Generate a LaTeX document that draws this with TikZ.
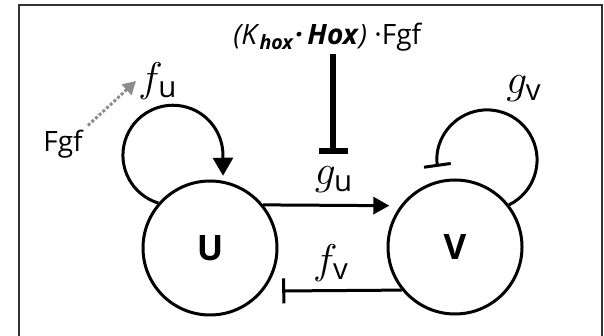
\documentclass[tikz,border=0pt]{standalone}
\usepackage{amsmath}
\usepackage{fontspec}
\setsansfont{Open Sans}
\usetikzlibrary{arrows.meta, positioning}
\definecolor{framegray}{HTML}{333333}
\definecolor{signalgray}{HTML}{8c8c8c}

\begin{document}
\begin{tikzpicture}[x=0.5pt, y=0.5pt,
    cell/.style={draw, circle, line width=1.5pt, minimum size=67pt, inner sep=0pt,
      font=\sffamily\bfseries\fontsize{17.5}{20}\selectfont},
    rate/.style={inner sep=1pt, font=\fontsize{21}{24}\selectfont},
    lbl/.style={inner sep=1pt, font=\sffamily\fontsize{14}{16}\selectfont},
    link/.style={line width=1.5pt}]
  \useasboundingbox (0,0) rectangle (604,336);
  \draw[framegray, line width=1pt] (19,0) -- (19,331) -- (602,331) -- (602,0);

  % the two cells
  \node[cell] (U) at (210,88) {U};
  \node[cell] (V) at (455,89) {V};

  % rates
  \node[rate] (gu) at (334,156) {$g_{\textsf{u}}$};
  \node[rate] (fv) at (331,73) {$f_{\textsf{v}}$};
  \node[rate] (fu) at (158,255) {$f_{\textsf{u}}$};
  \node[rate] (gv) at (524,247) {$g_{\textsf{v}}$};
  \node[lbl, anchor=base] (fgf) at (63,184) {Fgf};
  \node[lbl, anchor=base west] (hox) at (231,291)
    {\textit{(K}\textsubscript{\textbf{\textit{hox}}}\textbf{\textit{·\,Hox}}\textit{)}~·Fgf};
  \coordinate (gutee) at (333,182);

  \draw[link, -{Triangle[width=8.5pt,length=8pt]}, shorten >=5.5pt] (U.39) -- (V.143);
  \draw[link, -{Bar[width=12.5pt]}, shorten >=9.5pt] (V.219) -- (U.321);
  \draw[link, -{Triangle[width=10pt,length=9pt]}, shorten >=2.5pt]
    (U.139) arc[start angle=253, end angle=0, radius=50] -- (U.79);
  \draw[link, -{Bar[width=13.5pt]}] (V.38) arc[start angle=-64, end angle=188, radius=50];
  \draw[line width=3pt, -{Bar[width=14.5pt]}] (hox.south -| gutee) -- (gutee);
  \draw[signalgray, line width=1.5pt, dash pattern=on 1.5pt off 1pt,
    -{Triangle[width=7pt,length=6.5pt]}, shorten <=2pt] (fgf.north east) -- (fu.west);
\end{tikzpicture}
\end{document}
